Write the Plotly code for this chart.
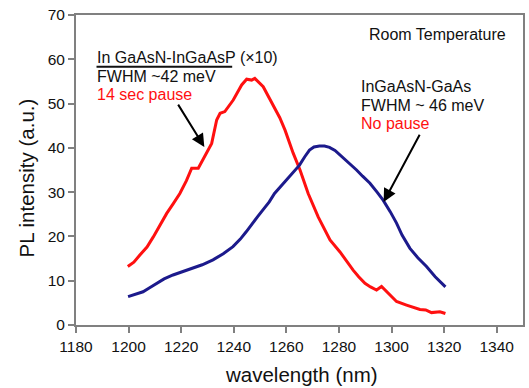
import plotly.graph_objects as go

# Red curve: In GaAsN-InGaAsP (x10), 14 sec pause
red_x = [1199.7, 1202.0, 1204.3, 1207.0, 1209.4, 1212.0, 1214.5, 1217.0, 1219.5, 1222.0,
         1224.0, 1226.5, 1229.0, 1231.6, 1233.5, 1234.8, 1236.6, 1239.8, 1243.0, 1244.9,
         1246.8, 1248.0, 1251.2, 1253.0, 1255.0, 1257.5, 1259.5, 1262.6, 1265.2, 1268.3,
         1272.1, 1276.6, 1280.4, 1283.0, 1285.4, 1287.5, 1289.9, 1292.0, 1294.3, 1296.2,
         1298.1, 1300.0, 1301.9, 1305.7, 1308.0, 1310.8, 1313.0, 1315.2, 1318.4, 1320.5]
red_y = [13.2, 14.2, 15.8, 17.6, 19.9, 22.6, 25.2, 27.4, 29.7, 32.6,
         35.4, 35.4, 38.0, 41.0, 46.3, 47.8, 48.2, 50.8, 54.2, 55.5,
         55.3, 55.7, 53.8, 51.8, 49.3, 46.8, 44.0, 38.8, 35.0, 29.7,
         24.4, 19.2, 16.5, 14.3, 12.4, 10.9, 9.4, 8.6, 7.9, 8.7,
         7.5, 6.3, 5.3, 4.5, 4.1, 3.5, 3.4, 2.8, 3.0, 2.6]

# Blue curve: InGaAsN-GaAs, no pause
blue_x = [1199.8, 1202.5, 1205.5, 1208.0, 1210.6, 1213.5, 1216.9, 1220.5, 1224.5, 1228.0,
          1232.1, 1236.0, 1239.7, 1242.5, 1244.8, 1247.0, 1249.0, 1251.1, 1253.5, 1255.5,
          1259.9, 1262.5, 1265.0, 1267.0, 1268.8, 1270.5, 1272.6, 1274.5, 1276.4, 1278.5,
          1280.4, 1283.0, 1286.7, 1289.0, 1291.8, 1294.5, 1296.8, 1299.5, 1301.9, 1304.0,
          1307.0, 1310.0, 1313.3, 1316.6, 1320.5]
blue_y = [6.4, 6.9, 7.5, 8.4, 9.4, 10.4, 11.3, 12.0, 12.8, 13.6,
          14.7, 16.1, 17.7, 19.4, 21.1, 22.7, 24.4, 26.0, 27.8, 29.7,
          32.7, 34.4, 36.1, 38.0, 39.5, 40.2, 40.4, 40.4, 40.1, 39.4,
          38.4, 37.0, 35.0, 33.6, 32.0, 30.0, 28.2, 25.6, 23.0, 20.3,
          17.3, 15.2, 13.2, 10.9, 8.6]

x_ticks = [1180, 1200, 1220, 1240, 1260, 1280, 1300, 1320, 1340]
y_ticks = [0, 10, 20, 30, 40, 50, 60, 70]

FONT = "Liberation Sans, Arial, sans-serif"
GREY = "#808080"
INK = "#111111"
RED = "#ff1010"
BLUE = "#1c1a8c"

fig = go.Figure()
fig.add_trace(go.Scatter(x=red_x, y=red_y, mode="lines",
                         line=dict(color=RED, width=3), showlegend=False))
fig.add_trace(go.Scatter(x=blue_x, y=blue_y, mode="lines",
                         line=dict(color=BLUE, width=3), showlegend=False))

axis_common = dict(showline=True, linecolor=GREY, linewidth=2, mirror=True,
                   ticks="outside", ticklen=6, tickwidth=2, tickcolor=GREY,
                   showgrid=False, zeroline=False,
                   tickfont=dict(family=FONT, size=15.5, color=INK))

fig.update_xaxes(range=[1180, 1350], tickvals=x_ticks, ticktext=[str(v) for v in x_ticks],
                 **axis_common)
fig.update_yaxes(range=[0, 70], tickvals=y_ticks, ticktext=[str(v) for v in y_ticks],
                 **axis_common)

# axis titles as annotations for precise placement
fig.add_annotation(x=0.504, y=-0.161, xref="paper", yref="paper", text="wavelength (nm)",
                   showarrow=False, xanchor="center", yanchor="middle",
                   font=dict(family=FONT, size=20.5, color=INK))
fig.add_annotation(x=-0.111, y=0.474, xref="paper", yref="paper", text="PL intensity (a.u.)",
                   showarrow=False, xanchor="center", yanchor="middle", textangle=-90,
                   font=dict(family=FONT, size=20.5, color=INK))

def label(x, y, text, color=INK):
    fig.add_annotation(x=x, y=y, xref="x", yref="y", text=text, showarrow=False,
                       xanchor="left", yanchor="middle", xshift=-2,
                       font=dict(family=FONT, size=16, color=color))

label(1187.8, 60.3, "In GaAsN-InGaAsP (×10)")
label(1187.8, 56.1, "FWHM ~42 meV")
label(1187.8, 52.1, "14 sec pause", RED)

label(1288.3, 53.8, "InGaAsN-GaAs")
label(1288.3, 49.5, "FWHM ~ 46 meV")
label(1288.3, 45.6, "No pause", RED)

label(1291.3, 65.5, "Room Temperature")

fig.add_shape(type="line", xref="x", yref="y", x0=1187.8, x1=1239.4, y0=58.3, y1=58.3,
              line=dict(color=INK, width=2))

def arrow(x_tail, y_tail, x_head, y_head):
    fig.add_annotation(x=x_head, y=y_head, ax=x_tail, ay=y_tail,
                       xref="x", yref="y", axref="x", ayref="y",
                       text="", showarrow=True, arrowhead=2, arrowsize=1.3,
                       arrowwidth=2, arrowcolor="#000000")

arrow(1218.5, 50.1, 1228.8, 40.2)
arrow(1311.0, 43.3, 1297.0, 27.8)

fig.update_layout(width=529, height=388, margin=dict(l=76, r=4, t=15, b=63),
                  plot_bgcolor="white", paper_bgcolor="white")

fig.write_html("out.html")
